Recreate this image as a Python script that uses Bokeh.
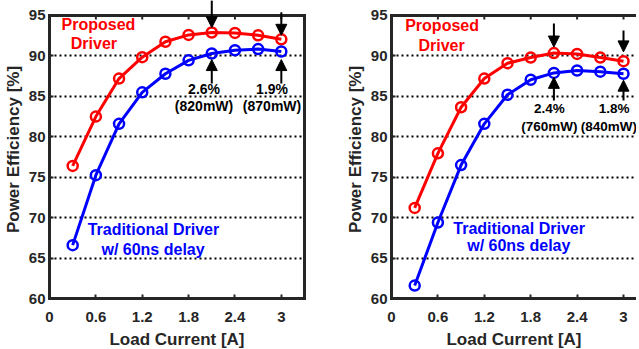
from bokeh.plotting import figure
from bokeh.models import (ColumnDataSource, FixedTicker, LinearAxis, Label,
                          Arrow, NormalHead, Range1d, Span)
from bokeh.layouts import row
from bokeh.embed import file_html
from bokeh.resources import INLINE

# ---------------- data ----------------
load_current = [0.3, 0.6, 0.9, 1.2, 1.5, 1.8, 2.1, 2.4, 2.7, 3.0]

left_proposed = [76.4, 82.5, 87.2, 89.85, 91.75, 92.6, 92.9, 92.85, 92.55, 92.05]
left_traditional = [66.6, 75.25, 81.6, 85.5, 87.8, 89.45, 90.3, 90.7, 90.85, 90.55]

right_proposed = [71.2, 77.95, 83.65, 87.2, 89.1, 89.8, 90.35, 90.25, 89.8, 89.35]
right_traditional = [61.6, 69.4, 76.5, 81.6, 85.2, 87.05, 87.9, 88.2, 88.05, 87.8]

x_ticks = [0, 0.6, 1.2, 1.8, 2.4, 3]
x_tick_labels = ["0", "0.6", "1.2", "1.8", "2.4", "3"]
y_ticks = [60, 65, 70, 75, 80, 85, 90, 95]

# annotation arrows (x, y start, y end)
arrow_x = [2.1, 3.0, 2.1, 3.0]
left_arrow_y0 = [96.9, 95.4, 86.6, 86.6]
left_arrow_y1 = [93.5, 92.55, 89.55, 89.55]
right_arrow_y0 = [94.0, 93.15, 84.5, 84.5]
right_arrow_y1 = [91.1, 90.5, 87.35, 87.0]

left_notes = ["2.6%", "(820mW)", "1.9%", "(870mW)"]
left_notes_x = [2.0, 2.0, 2.88, 2.88]
left_notes_y = [85.9, 83.8, 85.9, 83.8]
right_notes = ["2.4%", "(760mW)", "1.8%", "(840mW)"]
right_notes_x = [2.04, 2.04, 2.88, 2.81]
right_notes_y = [83.5, 81.25, 83.5, 81.25]

FONT = "Liberation Sans"
DARK = "#262626"
Y_TOP_PAD = 1.855  # room above the box for the arrows (15 px)


def make_panel(prop, trad, arrow_y0, arrow_y1, notes, notes_x, notes_y,
               note_size, x_end, border_left, frame_w, border_right, right_axis,
               prop_lbl, trad_lbl):
    y_lo, y_hi = y_ticks[0], y_ticks[-1]
    p = figure(output_backend="svg", toolbar_location=None,
               frame_width=frame_w, frame_height=298,
               min_border_left=border_left, min_border_right=border_right,
               min_border_top=0, min_border_bottom=48,
               x_range=Range1d(0, x_end), y_range=Range1d(y_lo, y_hi + Y_TOP_PAD))
    p.outline_line_color = None
    p.background_fill_color = "white"
    p.border_fill_color = "white"

    for ax in (p.xaxis[0], p.yaxis[0]):
        ax.axis_line_width = 3
        ax.axis_line_color = DARK
        ax.axis_line_cap = "square"
        ax.major_tick_in = 4
        ax.major_tick_out = 0
        ax.major_tick_line_width = 2
        ax.major_tick_line_color = DARK
        ax.minor_tick_line_color = None
        ax.major_label_text_font = FONT
        ax.major_label_text_font_style = "bold"
        ax.major_label_text_font_size = "15px"
        ax.major_label_text_color = DARK
        ax.axis_label_text_font = FONT
        ax.axis_label_text_font_style = "bold"
        ax.axis_label_text_font_size = "17px"
        ax.axis_label_text_color = DARK

    p.xaxis.ticker = FixedTicker(ticks=x_ticks)
    p.xaxis.major_label_overrides = dict(zip(x_ticks, x_tick_labels))
    p.yaxis.ticker = FixedTicker(ticks=y_ticks)
    p.yaxis.bounds = (y_lo, y_hi)
    p.xaxis.axis_label = "Load Current [A]"
    p.yaxis.axis_label = "Power Efficiency [%]"
    p.xaxis.major_label_standoff = 13
    p.xaxis.axis_label_standoff = 5
    p.yaxis.major_label_standoff = 4
    p.yaxis.axis_label_standoff = 3

    # top edge of the box
    p.add_layout(Span(location=y_hi, dimension="width", line_color=DARK,
                      line_width=3))
    p.segment(x0=x_ticks, y0=[y_hi] * len(x_ticks), x1=x_ticks,
              y1=[y_hi - 0.5] * len(x_ticks), line_color=DARK, line_width=2)
    if right_axis:
        rax = LinearAxis(ticker=FixedTicker(ticks=[]), bounds=(y_lo, y_hi),
                         axis_line_width=3, axis_line_color=DARK,
                         axis_line_cap="square", major_tick_in=0,
                         major_tick_out=0, minor_tick_line_color=None)
        p.add_layout(rax, "right")

    p.xgrid.grid_line_color = None
    p.ygrid.ticker = FixedTicker(ticks=y_ticks[1:-1])
    p.ygrid.grid_line_color = "black"
    p.ygrid.grid_line_width = 2
    p.ygrid.grid_line_dash = "2 3"

    src = ColumnDataSource(dict(x=load_current, prop=prop, trad=trad))
    for col, color in (("prop", "#ff0000"), ("trad", "#0000ff")):
        p.line("x", col, source=src, line_color=color, line_width=3)
        p.scatter("x", col, source=src, marker="circle", size=10,
                  line_color=color, line_width=2.5, fill_alpha=0)

    asrc = ColumnDataSource(dict(x0=arrow_x, y0=arrow_y0, x1=arrow_x, y1=arrow_y1))
    p.add_layout(Arrow(end=NormalHead(size=11, fill_color="black",
                                      line_color="black", line_width=1),
                       x_start="x0", y_start="y0", x_end="x1", y_end="y1",
                       source=asrc, line_width=2, line_color="black"))

    for t, xx, yy in zip(notes, notes_x, notes_y):
        p.add_layout(Label(x=xx, y=yy, text=t, text_font=FONT,
                           text_font_style="bold", text_font_size=note_size,
                           text_color="black", text_align="center",
                           text_baseline="middle"))

    for (t, xx, yy), color in zip(prop_lbl + trad_lbl,
                                  ["#ff0000"] * 2 + ["#0000ff"] * 2):
        p.add_layout(Label(x=xx, y=yy, text=t, text_font=FONT,
                           text_font_style="bold", text_font_size="16px",
                           text_color=color, text_align="center",
                           text_baseline="middle"))
    return p


left = make_panel(left_proposed, left_traditional, left_arrow_y0, left_arrow_y1,
                  left_notes, left_notes_x, left_notes_y, "14px",
                  3.3, 42, 255, 38, True,
                  [("Proposed", 0.634, 93.9), ("Driver", 0.575, 91.55)],
                  [("Traditional Driver", 1.345, 68.5), ("w/ 60ns delay", 1.34, 66.06)])
right = make_panel(right_proposed, right_traditional, right_arrow_y0, right_arrow_y1,
                   right_notes, right_notes_x, right_notes_y, "13.5px",
                   3.168, 43, 245, 0, False,
                   [("Proposed", 0.654, 93.77), ("Driver", 0.648, 91.3)],
                   [("Traditional Driver", 1.65, 68.7), ("w/ 60ns delay", 1.646, 66.5)])

layout = row(left, right)
open("out.html", "w").write(file_html(layout, INLINE))
